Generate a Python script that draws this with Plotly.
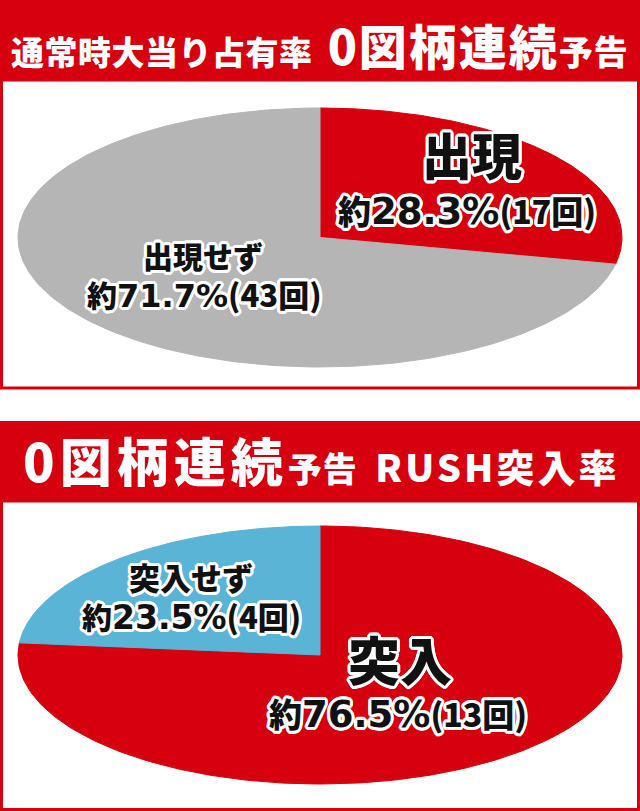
import numpy as np
import plotly.graph_objects as go

# Chart values
appear_labels = ["出現", "出現せず"]
appear_pct = [28.3, 71.7]
appear_counts = [17, 43]
appear_colors = ["#D7000F", "#B5B5B6"]

rush_labels = ["突入", "突入せず"]
rush_pct = [76.5, 23.5]
rush_counts = [13, 4]
rush_colors = ["#D7000F", "#5AB4D6"]

RED = "#D7000F"
JP = "Noto Sans CJK JP"

# white outline for the slice labels
angles = np.linspace(0, 2 * np.pi, 16, endpoint=False)
outline = ", ".join(
    "{:.1f}px {:.1f}px 0 #fff".format(3 * np.cos(a), 3 * np.sin(a)) for a in angles
)


def add_ellipse_pie(fig, pcts, colors, cx, cy, rx, ry):
    # slices go clockwise from 12 o'clock, stretched into an ellipse
    total = sum(pcts)
    start = 0.0
    for p, c in zip(pcts, colors):
        end = start + p / total
        t = np.linspace(start, end, 240) * 2 * np.pi
        xs = np.concatenate([[cx], cx + rx * np.sin(t), [cx]])
        ys = np.concatenate([[cy], cy - ry * np.cos(t), [cy]])
        fig.add_trace(go.Scatter(x=xs, y=ys, mode="lines", fill="toself",
                                 fillcolor=c, line=dict(color=c, width=1),
                                 hoverinfo="skip"))
        start = end


def pct_line(pct, cnt, s_kanji, s_num, s_paren):
    return ("<span style='font-size:{}px'>約</span>"
            "<span style='font-family:DejaVu Sans;font-size:{}px'>{}%</span>"
            "<span style='font-size:{}px'>({}回)</span>").format(
                s_kanji, s_num, pct, s_paren, cnt)


def span(txt, size, spacing=0):
    return "<span style='font-size:{}px;letter-spacing:{}px'>{}</span>".format(size, spacing, txt)


fig = go.Figure()

add_ellipse_pie(fig, appear_pct, appear_colors, 320, 237.5, 302, 129.5)
add_ellipse_pie(fig, rush_pct, rush_colors, 320, 655, 302, 129)

shapes = [
    dict(type="rect", x0=0, x1=640, y0=0, y1=81, fillcolor=RED, line_width=0, layer="below"),
    dict(type="rect", x0=1.5, x1=638.5, y0=80, y1=388, fillcolor="white",
         line=dict(color=RED, width=3), layer="below"),
    dict(type="rect", x0=0, x1=640, y0=421, y1=502, fillcolor=RED, line_width=0, layer="below"),
    dict(type="rect", x0=1.5, x1=638.5, y0=501, y1=809.5, fillcolor="white",
         line=dict(color=RED, width=3), layer="below"),
]

head_font = dict(family=JP, color="white", weight=900)
lab_font = dict(family=JP, color="#111111", weight=900, shadow=outline)

annotations = [
    # headers
    dict(x=320, y=44,
         text=span("通常時大当り占有率", 33, 0.5) + span("\u00a0\u00a0", 33)
              + span("0図柄連続", 48, 2) + span("予告", 34, 1),
         font=dict(size=33, **head_font)),
    dict(x=321, y=459,
         text=span("0図柄連続", 52, 5) + span("予告\u00a0\u00a0", 34, 1)
              + span("RUSH突入率", 38, 3),
         font=dict(size=38, **head_font)),
    # panel 1 labels
    dict(x=472, y=153, text=appear_labels[0], font=dict(size=50, **lab_font)),
    dict(x=467, y=210, text=pct_line(appear_pct[0], appear_counts[0], 33, 37, 32),
         font=dict(size=32, **lab_font)),
    dict(x=203, y=255, text=appear_labels[1], font=dict(size=30, **lab_font)),
    dict(x=204, y=293, text=pct_line(appear_pct[1], appear_counts[1], 30, 32, 31),
         font=dict(size=30, **lab_font)),
    # panel 2 labels
    dict(x=191, y=576, text=rush_labels[1], font=dict(size=31, **lab_font)),
    dict(x=191, y=615, text=pct_line(rush_pct[1], rush_counts[1], 30, 33, 31),
         font=dict(size=30, **lab_font)),
    dict(x=400, y=658, text=rush_labels[0], font=dict(size=52, **lab_font)),
    dict(x=398, y=713, text=pct_line(rush_pct[0], rush_counts[0], 33, 37, 32),
         font=dict(size=32, **lab_font)),
]
for a in annotations:
    a.update(xref="x", yref="y", showarrow=False, xanchor="center", yanchor="middle")

fig.update_layout(
    width=640, height=811,
    margin=dict(l=0, r=0, t=0, b=0),
    paper_bgcolor="white", plot_bgcolor="white",
    showlegend=False,
    shapes=shapes,
    annotations=annotations,
    xaxis=dict(range=[0, 640], visible=False, fixedrange=True),
    yaxis=dict(range=[811, 0], visible=False, fixedrange=True),
)

# drop the default page margin so the figure sits flush in the window
fig.write_html("out.html", config=dict(displayModeBar=False),
               post_script="document.body.style.margin='0';"
                           "document.body.style.overflow='hidden';")
